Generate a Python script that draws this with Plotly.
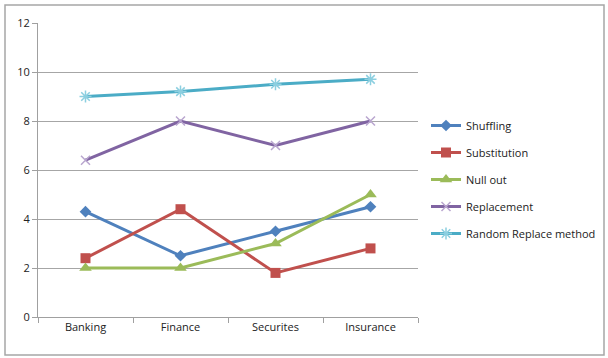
import plotly.graph_objects as go

categories = ["Banking", "Finance", "Securites", "Insurance"]
shuffling = [4.3, 2.5, 3.5, 4.5]
substitution = [2.4, 4.4, 1.8, 2.8]
null_out = [2.0, 2.0, 3.0, 5.0]
replacement = [6.4, 8.0, 7.0, 8.0]
random_replace = [9.0, 9.2, 9.5, 9.7]
series_names = ["Shuffling", "Substitution", "Null out", "Replacement", "Random Replace method"]
y_ticks = [0, 2, 4, 6, 8, 10, 12]

W, H = 608, 358
L, R, T, B = 38, 418, 23, 317

styles = [
    dict(color="#4F81BD", symbol="diamond", msize=9, mcolor="#4F81BD", mline=0),
    dict(color="#C0504D", symbol="square", msize=10, mcolor="#C0504D", mline=0),
    dict(color="#9BBB59", symbol="triangle-up", msize=11, mcolor="#9BBB59", mline=0),
    dict(color="#8064A2", symbol="x-thin", msize=9, mcolor="#B9A6CF", mline=1.5),
    dict(color="#4BACC6", symbol="asterisk", msize=10, mcolor="#8CCFE0", mline=1.5),
]
data = [shuffling, substitution, null_out, replacement, random_replace]

fig = go.Figure()
for i, (name, vals, st) in enumerate(zip(series_names, data, styles)):
    fig.add_trace(go.Scatter(
        x=categories, y=vals, name=name, mode="lines+markers",
        legendgroup=str(i),
        line=dict(color=st["color"], width=3),
        marker=dict(symbol=st["symbol"], size=st["msize"], color=st["mcolor"],
                    line=dict(width=st["mline"], color=st["mcolor"])),
    ))

def px_x(p):
    return (p - L) / (R - L)

def px_y(p):
    return (B - p) / (B - T)

fig.add_shape(type="rect", xref="paper", yref="paper",
              x0=px_x(5), x1=px_x(604), y0=px_y(355), y1=px_y(5),
              line=dict(color="#A6A6A6", width=1.5), fillcolor="rgba(0,0,0,0)", layer="below")

fig.update_layout(
    width=W, height=H,
    margin=dict(l=L, r=W - R, t=T, b=H - B, autoexpand=False),
    paper_bgcolor="white", plot_bgcolor="white",
    font=dict(family="Open Sans", size=11, color="#222222"),
    showlegend=True,
    legend=dict(x=px_x(426), y=px_y(111), xanchor="left", yanchor="top",
                traceorder="grouped", tracegroupgap=8,
                font=dict(family="Open Sans", size=11, color="#222222"),
                bgcolor="rgba(0,0,0,0)", itemwidth=30),
    xaxis=dict(type="category", range=[-0.5, 3.5], showgrid=False,
               showline=True, linecolor="#A0A0A0", linewidth=1,
               ticks="outside", tickson="boundaries", ticklen=5, tickcolor="#A0A0A0",
               tickfont=dict(size=11)),
    yaxis=dict(range=[0, 12], tickvals=y_ticks, showgrid=True, gridcolor="#A6A6A6",
               gridwidth=1, showline=True, linecolor="#A0A0A0", linewidth=1,
               ticks="outside", ticklen=5, tickcolor="#A0A0A0", zeroline=False,
               tickfont=dict(size=11)),
)

fig.write_html("out.html")
